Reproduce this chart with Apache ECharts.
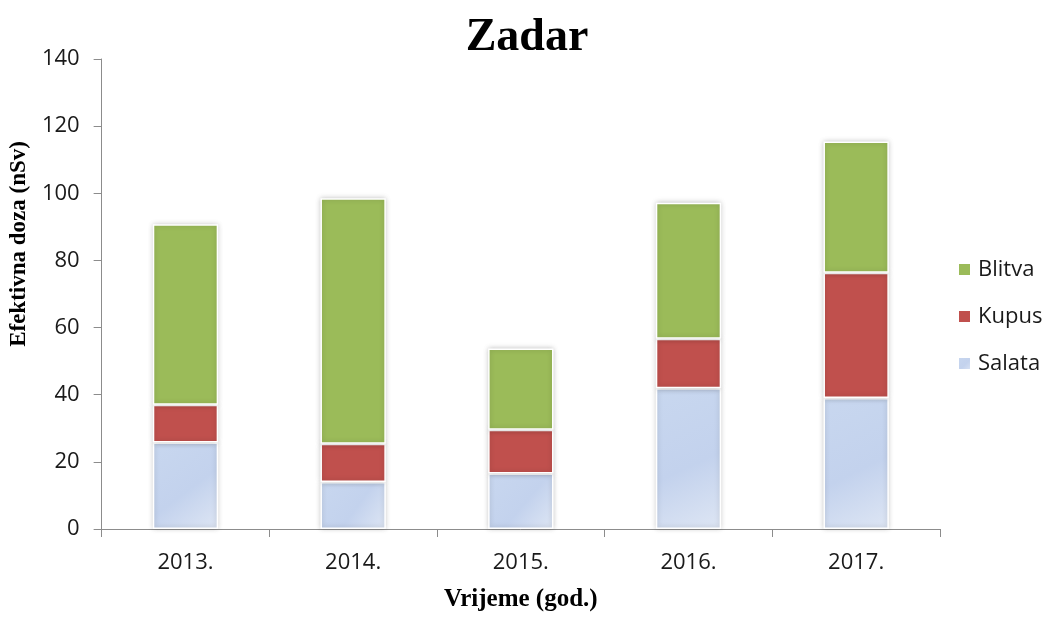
<!DOCTYPE html>
<html>
<head>
<meta charset="utf-8">
<title>Zadar</title>
<script src="https://cdn.jsdelivr.net/npm/echarts@6/dist/echarts.min.js"></script>
<style>
  html, body { margin: 0; padding: 0; background: #ffffff; }
  #chart { width: 1043px; height: 617px; }
</style>
</head>
<body>
<div id="chart"></div>
<script>
// Effective dose by year, split by vegetable (nSv)
const years = ['2013.', '2014.', '2015.', '2016.', '2017.'];
const salata = [25.8, 14.0, 16.5, 41.9, 39.0];
const kupus = [11.2, 11.4, 13.1, 14.8, 37.3];
const blitva = [53.8, 73.1, 24.2, 40.5, 39.1];
const yTicks = [0, 20, 40, 60, 80, 100, 120, 140];

const axisGray = '#8c8c8c';
const sansFont = '"Open Sans", "Liberation Sans", Arial, sans-serif';
const serifFont = '"Liberation Serif", "Times New Roman", serif';
const textColor = '#1a1a1a';

const chart = echarts.init(document.getElementById('chart'), null, { renderer: 'canvas' });

function segStyle(color) {
  return {
    color: color,
    borderColor: '#ffffff',
    borderWidth: 1.5,
    shadowBlur: 5,
    shadowColor: 'rgba(0,0,0,0.22)'
  };
}

const salataFill = new echarts.graphic.LinearGradient(0, 0, 1, 1, [
  { offset: 0, color: '#c8d7ef' },
  { offset: 0.55, color: '#c3d2ed' },
  { offset: 1, color: '#dee6f4' }
]);

chart.setOption({
  animation: false,
  backgroundColor: '#ffffff',
  title: {
    text: 'Zadar',
    left: 522,
    textAlign: 'center',
    top: 10,
    textStyle: { fontFamily: serifFont, fontWeight: 'bold', fontSize: 46, color: '#000000' }
  },
  legend: {
    orient: 'vertical',
    left: 957,
    top: 258,
    padding: 0,
    itemWidth: 13,
    itemHeight: 13,
    itemGap: 24,
    icon: 'rect',
    data: ['Blitva', 'Kupus', 'Salata'],
    textStyle: { fontFamily: sansFont, fontSize: 22, lineHeight: 23, color: textColor, padding: [0, 0, 0, 2] }
  },
  grid: { left: 101, right: 103, top: 59, bottom: 85.5, containLabel: false },
  xAxis: {
    type: 'category',
    data: years,
    name: 'Vrijeme (god.)',
    nameLocation: 'middle',
    nameGap: 58,
    nameTextStyle: { fontFamily: serifFont, fontWeight: 'bold', fontSize: 25, color: '#000000' },
    axisLine: { lineStyle: { color: axisGray, width: 1 } },
    axisTick: { show: true, length: 8, alignWithLabel: false, lineStyle: { color: axisGray } },
    axisLabel: { fontFamily: sansFont, fontSize: 22, color: textColor, margin: 23 }
  },
  yAxis: {
    type: 'value',
    min: yTicks[0],
    max: yTicks[yTicks.length - 1],
    interval: 20,
    name: 'Efektivna doza (nSv)',
    nameLocation: 'middle',
    nameGap: 64,
    nameTextStyle: { fontFamily: serifFont, fontWeight: 'bold', fontSize: 23, color: '#000000', padding: [0, 0, 0, 100] },
    axisLine: { show: true, lineStyle: { color: axisGray, width: 1 } },
    axisTick: { show: true, length: 8, lineStyle: { color: axisGray } },
    splitLine: { show: false },
    axisLabel: { fontFamily: sansFont, fontSize: 22, color: textColor, margin: 22 }
  },
  series: [
    { name: 'Salata', type: 'bar', stack: 'dose', barWidth: '39%', data: salata, itemStyle: segStyle(salataFill) },
    { name: 'Kupus', type: 'bar', stack: 'dose', barWidth: '39%', data: kupus, itemStyle: segStyle('#c0504d') },
    { name: 'Blitva', type: 'bar', stack: 'dose', barWidth: '39%', data: blitva, itemStyle: segStyle('#9bbb59') }
  ]
});
</script>
</body>
</html>
